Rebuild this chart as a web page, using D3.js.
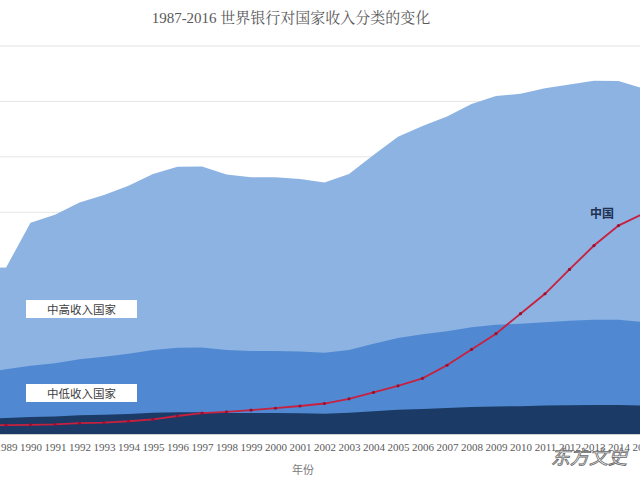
<!DOCTYPE html>
<html><head><meta charset="utf-8">
<script src="https://cdn.jsdelivr.net/npm/d3@7"></script>
<style>body{margin:0;background:#fff;overflow:hidden}svg{display:block}</style>
</head><body>
<svg id="c" width="640" height="480"></svg>
<script>
const years = d3.range(1987, 2017);
const lowIncome = [480,545,580,610,635,675,695,725,765,785,785,760,755,755,745,735,765,825,875,905,935,975,995,1005,1025,1035,1045,1045,1025,1005];
const lowerMiddle = [1940,2200,2335,2465,2555,2695,2785,2895,3035,3115,3125,3030,2995,2995,2975,2935,3035,3255,3465,3595,3705,3855,3945,3975,4035,4085,4125,4125,4035,3955];
const upperMiddle = [6000,6000,6000,7620,7910,8355,8625,8955,9385,9645,9655,9360,9265,9265,9205,9075,9385,10065,10725,11115,11455,11905,12195,12275,12475,12615,12745,12735,12475,12235];
const china = [320,330,320,330,350,390,410,460,530,650,750,800,860,930,1010,1100,1270,1500,1740,2010,2480,3050,3620,4340,5060,5940,6800,7520,7950,8250];
const yTicks = [0,2000,4000,6000,8000,10000,12000,14000];
const title = "1987-2016  世界银行对国家收入分类的变化";
const xTitle = "年份";
const bandLabels = ["中高收入国家","中低收入国家"];
const chinaLabel = "中国";

const svg = d3.select("#c");
const x = d3.scalePoint().domain(years).range([-43, 667.5]);
const y = d3.scaleLinear().domain([0,14000]).range([434, 46]);

// gridlines
svg.append("g").selectAll("line").data(yTicks.slice(1)).join("line")
  .attr("x1",0).attr("x2",640).attr("y1",d=>y(d)).attr("y2",d=>y(d))
  .attr("stroke","#e6e6e6").attr("stroke-width",1);

const area = arr => d3.area().x((d,i)=>x(years[i])).y0(y(0)).y1(d=>y(d))(arr);
svg.append("path").attr("d",area(upperMiddle)).attr("fill","#8db3e2");
svg.append("path").attr("d",area(lowerMiddle)).attr("fill","#5089d2");
svg.append("path").attr("d",area(lowIncome)).attr("fill","#1b3a66");

// axis
const ax = svg.append("g").attr("transform",`translate(0,${y(0)})`)
  .call(d3.axisBottom(x).tickSize(0).tickPadding(9));
ax.select(".domain").attr("stroke","#d0d0d0");
ax.selectAll("text").attr("font-family","'Liberation Serif','DejaVu Serif',serif")
  .attr("font-size",11).attr("fill","#5a5a5a");

// China line
const line = d3.line().x((d,i)=>x(years[i])).y(d=>y(d));
svg.append("path").attr("d",line(china)).attr("fill","none")
  .attr("stroke","#c8203f").attr("stroke-width",1.8);
svg.append("g").selectAll("circle").data(china).join("circle")
  .attr("cx",(d,i)=>x(years[i])).attr("cy",d=>y(d)).attr("r",1.6)
  .attr("fill","#9a1030");

// band labels
const boxes = [{t:bandLabels[0], y:300},{t:bandLabels[1], y:384}];
boxes.forEach(b=>{
  svg.append("rect").attr("x",26).attr("y",b.y).attr("width",111).attr("height",18).attr("fill","#fff");
  svg.append("text").attr("x",81.5).attr("y",b.y+13.5).attr("text-anchor","middle")
    .attr("font-family","'Noto Sans CJK SC',sans-serif").attr("font-size",11.5)
    .attr("fill","#404040").text(b.t);
});

svg.append("text").attr("x",602).attr("y",218).attr("text-anchor","middle")
  .attr("font-family","'Noto Sans CJK SC',sans-serif").attr("font-size",12).attr("font-weight","bold")
  .attr("fill","#1f3050").text(chinaLabel);

// title
svg.append("text").attr("x",291).attr("y",23).attr("text-anchor","middle")
  .attr("font-family","'Liberation Serif','Noto Serif CJK SC','Noto Sans CJK SC',serif").attr("font-size",15)
  .attr("fill","#595959").text(title);
svg.append("line").attr("x1",0).attr("x2",640).attr("y1",y(14000)).attr("y2",y(14000))
  .attr("stroke","#eeeeee");

svg.append("text").attr("x",303).attr("y",474).attr("text-anchor","middle")
  .attr("font-family","'Noto Sans CJK SC',sans-serif").attr("font-size",11)
  .attr("fill","#7a7a7a").text(xTitle);

// watermark
svg.append("text").attr("x",589).attr("y",464).attr("text-anchor","middle")
  .attr("font-family","'Noto Sans CJK SC',sans-serif").attr("font-size",19)
  .attr("fill","#ffffff").attr("stroke","#666").attr("stroke-width",0.8)
  .attr("font-style","italic").text("东方文史");
</script>
</body></html>
